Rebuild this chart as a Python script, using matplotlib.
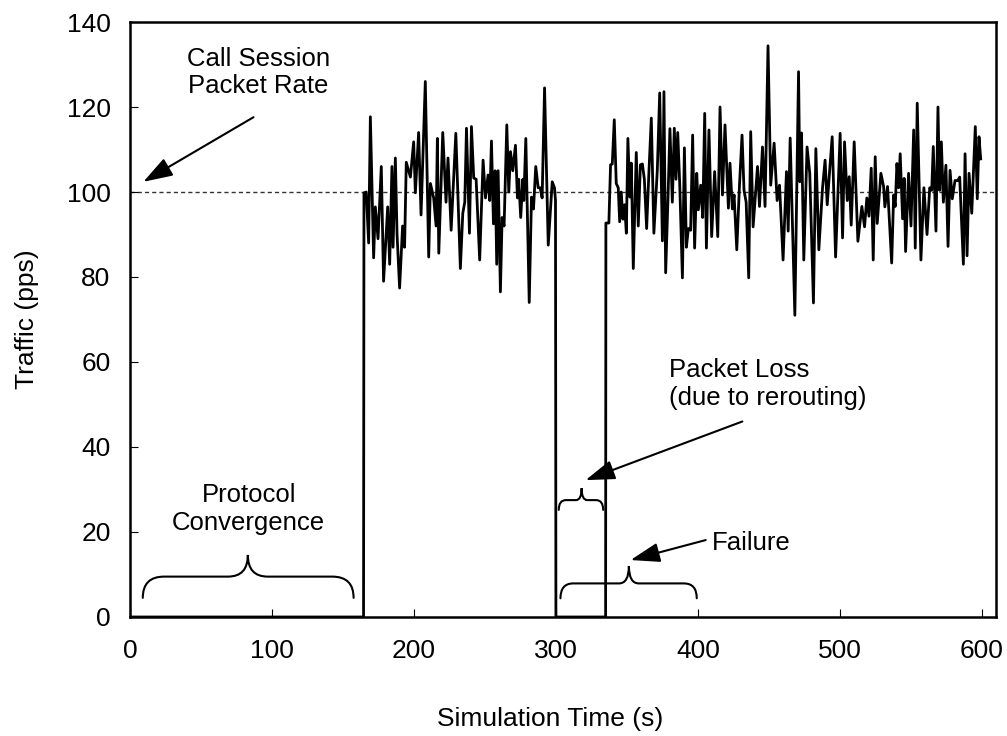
import matplotlib
matplotlib.use('Agg')
import matplotlib.pyplot as plt
from matplotlib.path import Path
from matplotlib.patches import PathPatch

plt.rcParams['font.family'] = ['Liberation Sans', 'DejaVu Sans']

# ---- data ----
# first burst of traffic, after protocol convergence (s, pps)
burst1_t = [164.5, 164.8, 166.4, 168.1, 169.3, 171.6, 172.8, 174.7, 177.0, 178.6,
            181.5, 182.9, 184.5, 185.3, 186.9, 188.1, 189.9, 192.0, 193.4, 194.6,
            197.5, 199.8, 201.0, 203.3, 205.0, 208.0, 210.4, 211.6, 213.9, 215.6,
            216.5, 217.5, 220.3, 222.6, 224.0, 226.2, 229.5, 232.7, 234.4, 235.8,
            237.0, 239.1, 240.5, 242.1, 243.8, 246.3, 248.7, 250.4, 252.2, 253.4,
            254.6, 256.0, 257.2, 258.3, 259.3, 260.9, 262.1, 263.5, 265.4, 266.8,
            268.0, 269.6, 271.5, 272.9, 273.8, 275.2, 276.7, 277.4, 278.8, 281.2,
            282.8, 284.2, 285.8, 287.5, 288.9, 290.3, 292.0, 294.6, 297.4, 299.0,
            299.7, 300.0]
burst1_v = [0, 99.8, 100.0, 88.0, 117.7, 84.5, 96.5, 89.0, 106.0, 79.0,
            96.5, 83.0, 106.0, 87.0, 108.0, 90.0, 77.4, 92.0, 87.0, 107.0,
            103.5, 111.8, 99.8, 114.0, 94.6, 126.0, 84.7, 102.0, 98.6, 92.0,
            112.6, 85.6, 114.0, 97.6, 108.0, 91.0, 113.8, 82.0, 95.0, 97.6,
            115.0, 90.3, 115.4, 103.3, 103.0, 84.0, 107.5, 98.6, 104.0, 98.0,
            112.0, 92.5, 105.0, 83.0, 105.0, 76.5, 94.0, 92.0, 115.8, 100.0,
            109.5, 105.0, 111.0, 98.6, 103.0, 94.0, 103.0, 98.0, 112.6, 74.0,
            98.8, 96.0, 106.0, 101.0, 101.0, 98.6, 124.5, 87.5, 102.4, 101.0,
            98.0, 0]

# second burst, after rerouting
burst2_t = [335.0, 335.2, 337.3, 338.5, 339.7, 341.1, 342.5, 343.9, 344.9, 346.0,
            347.2, 348.4, 349.6, 350.7, 352.1, 353.1, 354.5, 356.6, 358.0, 359.5,
            360.9, 362.3, 363.9, 365.5, 367.2, 369.0, 371.4, 373.1, 375.0, 376.1,
            377.3, 378.9, 380.3, 382.0, 383.4, 384.6, 385.8, 387.2, 389.1, 390.5,
            391.9, 393.3, 394.9, 396.3, 397.7, 399.2, 400.3, 402.0, 403.4, 404.8,
            406.0, 407.8, 409.7, 411.8, 414.0, 415.6, 417.3, 419.1, 421.5, 422.6,
            424.3, 425.5, 427.4, 429.3, 431.1, 432.5, 434.0, 435.8, 437.2, 438.9,
            442.0, 443.4, 445.5, 447.3, 449.4, 451.3, 453.7, 455.8, 457.5, 460.0,
            462.4, 463.6, 465.0, 468.3, 470.9, 471.8, 473.0, 474.6, 476.9, 478.8,
            481.4, 483.1, 485.2, 487.8, 489.6, 491.1, 492.5, 494.6, 497.0, 500.2,
            501.9, 503.3, 505.2, 506.6, 508.0, 510.1, 512.7, 515.5, 517.4, 519.0,
            520.5, 522.1, 523.5, 524.9, 526.3, 528.9, 530.8, 531.7, 533.6, 536.5,
            537.9, 539.0, 540.2, 541.4, 542.5, 544.2, 545.3, 546.3, 548.4, 550.1,
            552.0, 553.1, 554.5, 557.1, 559.2, 561.4, 563.3, 564.7, 565.8, 567.7,
            569.1, 570.3, 571.5, 572.9, 574.7, 576.2, 577.6, 579.2, 581.1, 583.0,
            584.4, 587.0, 588.2, 589.6, 591.0, 592.9, 595.4, 596.8, 598.0, 599.2]
burst2_v = [0, 92.7, 92.7, 106.4, 106.6, 117.0, 102.0, 101.0, 93.0, 100.0,
            93.6, 97.0, 90.3, 112.6, 98.8, 106.8, 82.0, 109.3, 92.0, 106.4,
            106.6, 103.0, 91.4, 104.6, 117.4, 90.3, 105.0, 123.3, 88.5, 123.6,
            81.0, 98.0, 114.9, 97.6, 115.0, 103.0, 114.0, 102.0, 79.8, 110.4,
            87.0, 91.4, 91.0, 113.4, 86.8, 104.4, 95.8, 101.6, 94.0, 118.5,
            86.8, 114.6, 89.5, 104.8, 89.5, 120.0, 99.3, 115.8, 96.2, 106.8,
            96.0, 99.3, 86.4, 101.6, 113.4, 100.4, 97.6, 79.8, 114.2, 91.8,
            106.0, 96.6, 110.6, 96.6, 134.4, 101.6, 111.5, 98.0, 101.6, 84.0,
            104.8, 90.8, 112.7, 71.0, 128.3, 102.4, 113.9, 84.0, 110.6, 104.4,
            73.9, 110.2, 86.4, 101.0, 107.5, 97.0, 103.6, 113.0, 84.7, 113.8,
            89.2, 111.8, 98.0, 103.6, 92.2, 111.8, 88.4, 96.6, 91.8, 98.6,
            94.3, 105.6, 84.0, 108.3, 92.6, 104.4, 101.3, 96.5, 101.3, 83.3,
            99.3, 96.6, 106.7, 101.0, 109.0, 93.7, 103.2, 86.0, 104.4, 92.0,
            114.6, 86.8, 120.9, 84.0, 101.0, 90.0, 101.0, 100.4, 110.7, 90.8,
            120.0, 100.4, 111.8, 97.6, 106.3, 87.2, 105.1, 98.4, 102.7, 102.7,
            103.5, 83.0, 109.0, 85.0, 104.4, 95.0, 115.4, 98.4, 113.0, 107.8]

session_rate = 100

time = [0.0] + burst1_t + burst2_t
traffic = [0.0] + burst1_v + burst2_v


def draw_brace(ax, x0, x1, y_tip, y_mid, y_peak, r_end, r_mid, xc=None):
    # horizontal curly brace, tips pointing down
    if xc is None:
        xc = (x0 + x1) / 2
    verts = [(x0, y_tip),
             (x0, y_mid), (x0 + r_end, y_mid),
             (xc - r_mid, y_mid),
             (xc, y_mid), (xc, y_peak),
             (xc, y_mid), (xc + r_mid, y_mid),
             (x1 - r_end, y_mid),
             (x1, y_mid), (x1, y_tip)]
    codes = [Path.MOVETO,
             Path.CURVE3, Path.CURVE3,
             Path.LINETO,
             Path.CURVE3, Path.CURVE3,
             Path.CURVE3, Path.CURVE3,
             Path.LINETO,
             Path.CURVE3, Path.CURVE3]
    ax.add_patch(PathPatch(Path(verts, codes), fill=False, lw=1.5,
                           edgecolor='black', capstyle='round'))


fig = plt.figure(figsize=(10.07, 7.36), dpi=100)
ax = fig.add_axes([0.1291, 0.1617, 0.8600, 0.8084])

ax.axhline(session_rate, color='#333333', lw=1.0, ls=(0, (3, 2.2)), zorder=1)
ax.plot(time, traffic, color='black', lw=2.0, solid_joinstyle='round', zorder=2)

ax.set_xlim(0, 610)
ax.set_ylim(0, 140)
ax.set_xticks(range(0, 601, 100))
ax.set_yticks(range(0, 141, 20))
ax.tick_params(direction='in', length=5.5, width=0.8, labelsize=19)
ax.tick_params(axis='x', pad=16)
ax.tick_params(axis='y', pad=14)
for s in ax.spines.values():
    s.set_linewidth(1.8)

ax.set_xlabel('Simulation Time (s)', fontsize=19)
ax.set_ylabel('Traffic (pps)', fontsize=19)
ax.xaxis.set_label_coords(0.485, -0.152)
ax.yaxis.set_label_coords(-0.105, 0.5)

arrow = dict(arrowstyle='-|>,head_length=1.8,head_width=0.6', color='black',
             lw=1.5, mutation_scale=10, shrinkA=0, shrinkB=0)

ax.text(90.3, 128.1, 'Call Session\nPacket Rate', ha='center', va='center',
        fontsize=18.5)
ax.annotate('', xy=(9.4, 102.4), xytext=(87, 117.6), arrowprops=arrow)

ax.text(83.6, 25.4, 'Protocol\nConvergence', ha='center', va='center',
        fontsize=18.5)
draw_brace(ax, 9, 157.5, 4.5, 9.5, 14.6, 15, 14, xc=83)

ax.text(379.6, 54.9, 'Packet Loss\n(due to rerouting)', ha='left', va='center',
        fontsize=18.5)
ax.annotate('', xy=(320.9, 32.2), xytext=(431.3, 46.0), arrowprops=arrow)
draw_brace(ax, 302, 333.3, 25.2, 27.5, 30.3, 5, 4, xc=318.1)

ax.text(410.2, 17.4, 'Failure', ha='left', va='center', fontsize=18.5)
ax.annotate('', xy=(352.6, 13.4), xytext=(405.5, 18.1), arrowprops=arrow)
draw_brace(ax, 303.2, 399.2, 4.4, 7.9, 12, 9, 7, xc=351.4)

fig.savefig('out.png', dpi=100)
